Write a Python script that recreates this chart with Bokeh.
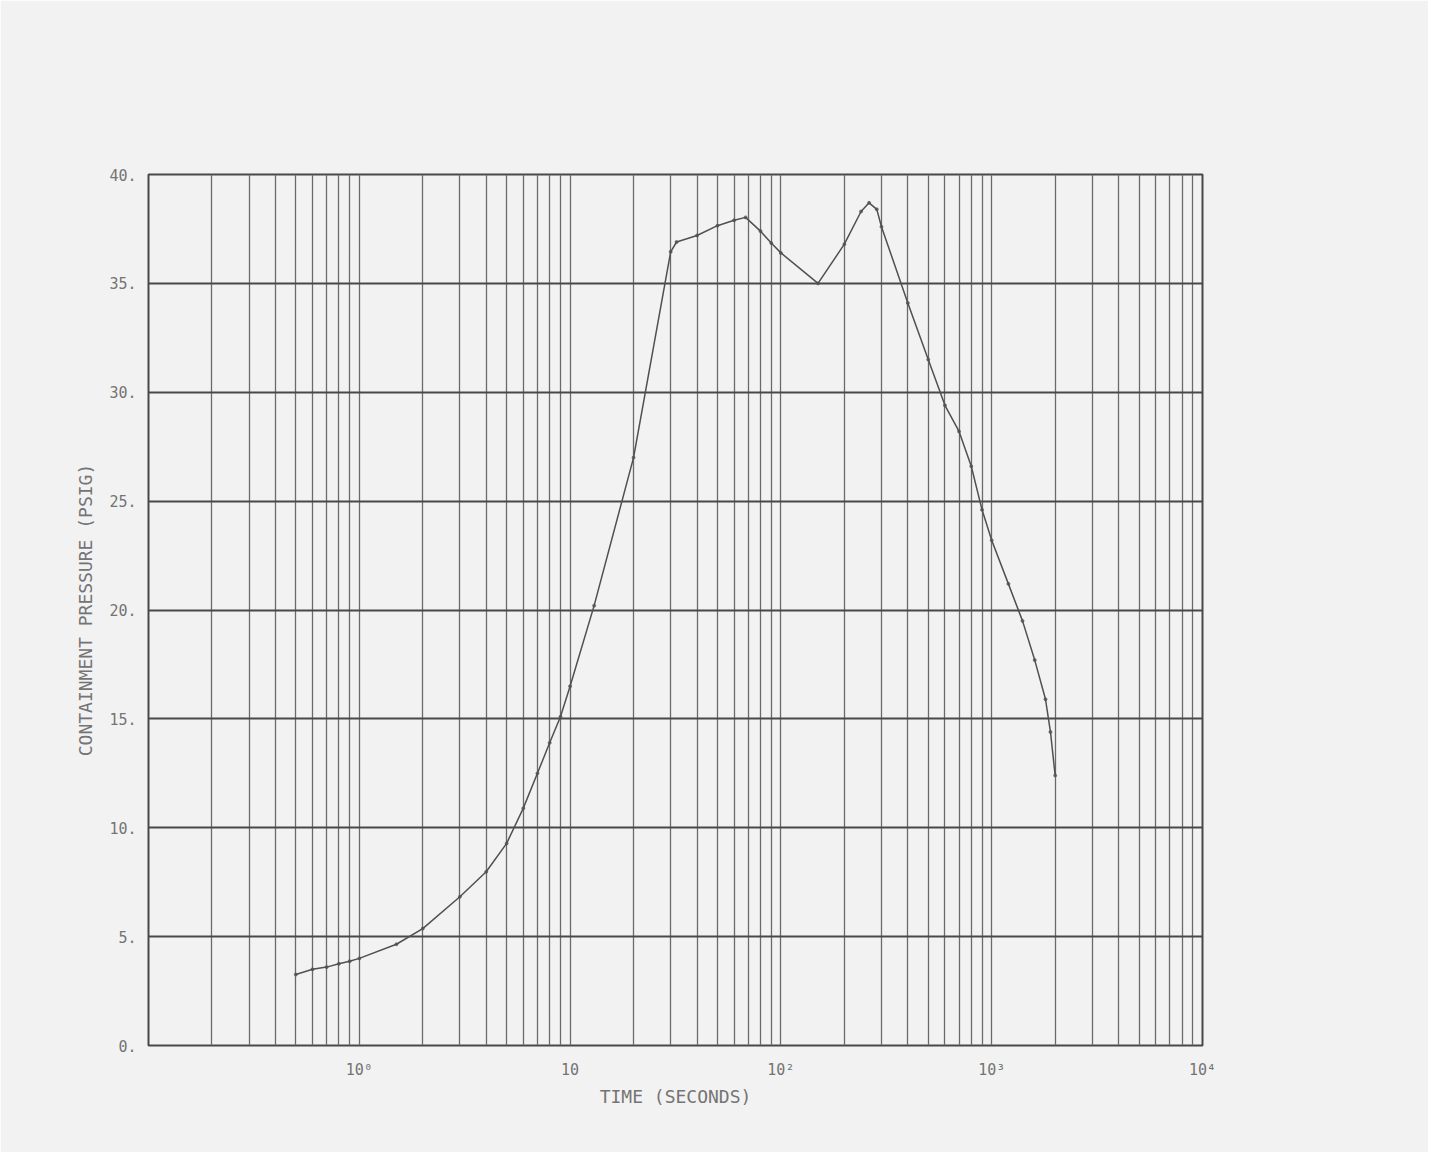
from bokeh.plotting import figure
from bokeh.models import Range1d, FixedTicker
from bokeh.embed import file_html
from bokeh.resources import INLINE

# ---- data ----
time_s = [0.5, 0.6, 0.7, 0.8, 0.9, 1.0, 1.5, 2.0, 3.0, 4.0, 5.0, 6.0, 7.0, 8.0, 9.0,
          10.0, 13.0, 20.0, 30.0, 32.0, 40.0, 50.0, 60.0, 68.0, 80.0, 90.0, 100.0,
          150.0, 200.0, 240.0, 262.0, 285.0, 300.0, 400.0, 500.0, 600.0, 700.0,
          800.0, 900.0, 1000.0, 1200.0, 1400.0, 1600.0, 1800.0, 1900.0, 2000.0]
pressure_psig = [3.26, 3.5, 3.6, 3.75, 3.87, 4.0, 4.65, 5.37, 6.83, 7.98, 9.28, 10.9,
                 12.5, 13.9, 15.1, 16.5, 20.2, 27.0, 36.45, 36.9, 37.2, 37.65, 37.9,
                 38.03, 37.4, 36.85, 36.4, 35.0, 36.8, 38.3, 38.7, 38.4, 37.6, 34.1,
                 31.5, 29.4, 28.2, 26.6, 24.6, 23.2, 21.2, 19.5, 17.7, 15.9, 14.4, 12.4]

x_tick_values = [1, 10, 100, 1000, 10000]
x_tick_labels = ["10\u2070", "10", "10\u00b2", "10\u00b3", "10\u2074"]
y_tick_values = [0, 5, 10, 15, 20, 25, 30, 35, 40]
y_tick_labels = ["0.", "5.", "10.", "15.", "20.", "25.", "30.", "35.", "40."]

x_title = "TIME (SECONDS)"
y_title = "CONTAINMENT PRESSURE (PSIG)"

# ---- style ----
PAPER = "#f2f2f2"
INK = "#505050"
GRID_V = "#6a6a6a"
GRID_H = "#484848"
TEXT = "#747474"
FONT = "DejaVu Sans Mono"

p = figure(width=1428, height=1152, x_axis_type="log",
           x_range=Range1d(0.1, 10000), y_range=Range1d(0, 40),
           output_backend="svg", toolbar_location=None,
           min_border_left=148, min_border_right=226,
           min_border_top=174, min_border_bottom=107)

p.background_fill_color = PAPER
p.border_fill_color = PAPER
p.outline_line_color = GRID_H
p.outline_line_width = 2
p.styles = {"outline": "1px solid #8a8a8a", "outline-offset": "-3px"}

# vertical grid at every log cycle subdivision
v_grid = []
for d in range(-1, 4):
    for m in range(1, 10):
        v_grid.append(m * 10.0 ** d)
v_grid.append(10000.0)
p.xgrid.ticker = FixedTicker(ticks=v_grid)
p.xgrid.grid_line_color = GRID_V
p.xgrid.grid_line_width = 1.3
p.ygrid.ticker = FixedTicker(ticks=y_tick_values)
p.ygrid.grid_line_color = GRID_H
p.ygrid.grid_line_width = 2.2

# axes
p.xaxis.ticker = FixedTicker(ticks=x_tick_values)
p.xaxis.major_label_overrides = dict(zip(x_tick_values, x_tick_labels))
p.yaxis.ticker = FixedTicker(ticks=y_tick_values)
p.yaxis.major_label_overrides = dict(zip(y_tick_values, y_tick_labels))
for ax in (p.xaxis, p.yaxis):
    ax.axis_line_color = None
    ax.major_tick_line_color = None
    ax.minor_tick_line_color = None
    ax.major_label_text_font = FONT
    ax.major_label_text_color = TEXT
    ax.major_label_text_font_size = "15px"
    ax.axis_label_text_font = FONT
    ax.axis_label_text_color = TEXT
    ax.axis_label_text_font_style = "normal"
    ax.axis_label_text_font_size = "18px"
p.xaxis.major_label_standoff = 9
p.yaxis.major_label_standoff = 6
p.xaxis.axis_label = x_title
p.yaxis.axis_label = y_title
p.xaxis.axis_label_standoff = 4
p.yaxis.axis_label_standoff = 10

# curve
p.line(time_s, pressure_psig, line_color=INK, line_width=1.5)
p.scatter(time_s, pressure_psig, size=3, color=INK, alpha=0.7)

open("out.html", "w").write(file_html(p, INLINE))
